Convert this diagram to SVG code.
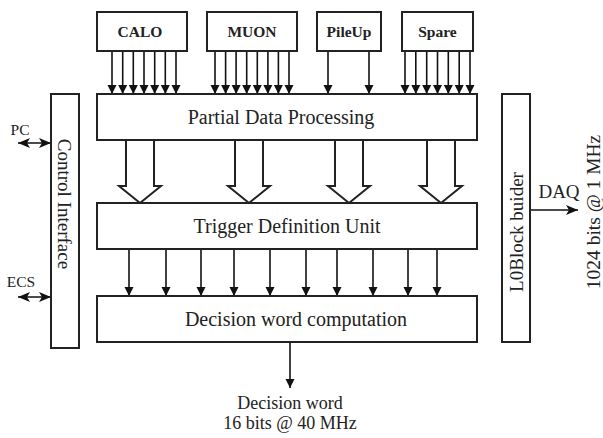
<svg xmlns="http://www.w3.org/2000/svg" width="603" height="438" viewBox="0 0 603 438">
<defs>
<style>
.box{fill:#fff;stroke:#222;stroke-width:2}
.ln{stroke:#111;stroke-width:1.6;fill:none}
.t{font-family:"Liberation Serif","Times New Roman",serif;fill:#222;text-anchor:middle}
.tb{font-family:"Liberation Serif","Times New Roman",serif;font-weight:bold;font-size:15.5px;fill:#222;text-anchor:middle}
.hollow{fill:#fff;stroke:#222;stroke-width:2;stroke-linejoin:miter}
</style>
<marker id="ah" markerWidth="9" markerHeight="10" viewBox="0 0 10 10" refX="10" refY="5" orient="auto" markerUnits="userSpaceOnUse">
<path d="M0,0 L10,5 L0,10 Z" fill="#111"/>
</marker>
<marker id="ah2" markerWidth="12" markerHeight="10" viewBox="0 0 12 10" refX="12" refY="5" orient="auto-start-reverse" markerUnits="userSpaceOnUse">
<path d="M0,0 L12,5 L0,10 L3,5 Z" fill="#111"/>
</marker>
</defs>
<rect width="603" height="438" fill="#fff"/>

<g id="connectors">
<g class="ln" marker-end="url(#ah)">
<!-- CALO -->
<line x1="112" y1="51" x2="112" y2="94"/>
<line x1="122.7" y1="51" x2="122.7" y2="94"/>
<line x1="133.3" y1="51" x2="133.3" y2="94"/>
<line x1="144" y1="51" x2="144" y2="94"/>
<line x1="154.7" y1="51" x2="154.7" y2="94"/>
<line x1="165.3" y1="51" x2="165.3" y2="94"/>
<line x1="176" y1="51" x2="176" y2="94"/>
<!-- MUON -->
<line x1="215" y1="51" x2="215" y2="94"/>
<line x1="225.6" y1="51" x2="225.6" y2="94"/>
<line x1="236.1" y1="51" x2="236.1" y2="94"/>
<line x1="246.7" y1="51" x2="246.7" y2="94"/>
<line x1="257.3" y1="51" x2="257.3" y2="94"/>
<line x1="267.9" y1="51" x2="267.9" y2="94"/>
<line x1="278.4" y1="51" x2="278.4" y2="94"/>
<line x1="289" y1="51" x2="289" y2="94"/>
<!-- PileUp -->
<line x1="328" y1="51" x2="328" y2="94"/>
<line x1="369" y1="51" x2="369" y2="94"/>
<!-- Spare -->
<line x1="405" y1="51" x2="405" y2="94"/>
<line x1="415.8" y1="51" x2="415.8" y2="94"/>
<line x1="426.7" y1="51" x2="426.7" y2="94"/>
<line x1="437.5" y1="51" x2="437.5" y2="94"/>
<line x1="448.3" y1="51" x2="448.3" y2="94"/>
<line x1="459.2" y1="51" x2="459.2" y2="94"/>
<line x1="470" y1="51" x2="470" y2="94"/>
<!-- TDU to DWC -->
<line x1="129" y1="249" x2="129" y2="296"/>
<line x1="166" y1="249" x2="166" y2="296"/>
<line x1="201" y1="249" x2="201" y2="296"/>
<line x1="234" y1="249" x2="234" y2="296"/>
<line x1="270" y1="249" x2="270" y2="296"/>
<line x1="306" y1="249" x2="306" y2="296"/>
<line x1="337" y1="249" x2="337" y2="296"/>
<line x1="373" y1="249" x2="373" y2="296"/>
<line x1="408" y1="249" x2="408" y2="296"/>
<line x1="437" y1="249" x2="437" y2="296"/>
<!-- output -->
<line x1="290" y1="342" x2="290" y2="388"/>
</g>
<!-- hollow arrows -->
<path class="hollow" d="M126,140V186H119L140,203L161,186H154V140"/>
<path class="hollow" d="M235,140V186H228L249,203L270,186H263V140"/>
<path class="hollow" d="M335,140V186H328L349,203L370,186H363V140"/>
<path class="hollow" d="M427,140V186H420L441,203L462,186H455V140"/>
<!-- DAQ -->
<line class="ln" marker-end="url(#ah2)" x1="530" y1="210" x2="578" y2="210"/>
<!-- PC / ECS -->
<line class="ln" stroke-width="2" marker-start="url(#ah2)" marker-end="url(#ah2)" x1="18" y1="143" x2="51" y2="143"/>
<line class="ln" stroke-width="2" marker-start="url(#ah2)" marker-end="url(#ah2)" x1="18" y1="297" x2="51" y2="297"/>
</g>

<g id="calo"><rect class="box" x="97" y="12" width="90" height="39"/><text class="tb" x="140" y="37">CALO</text></g>
<g id="muon"><rect class="box" x="207" y="12" width="90" height="39"/><text class="tb" x="252" y="37">MUON</text></g>
<g id="pileup"><rect class="box" x="317" y="12" width="64" height="39"/><text class="tb" x="349" y="37">PileUp</text></g>
<g id="spare"><rect class="box" x="402" y="12" width="71" height="39"/><text class="tb" x="437.5" y="37">Spare</text></g>

<g id="pdp"><rect class="box" x="97" y="94" width="380" height="46"/><text class="t" x="281" y="124" font-size="20">Partial Data Processing</text></g>
<g id="tdu"><rect class="box" x="97" y="203" width="380" height="46"/><text class="t" x="287" y="233" font-size="20">Trigger Definition Unit</text></g>
<g id="dwc"><rect class="box" x="97" y="296" width="380" height="46"/><text class="t" x="296" y="326" font-size="20">Decision word computation</text></g>

<g id="control"><rect class="box" x="51" y="94" width="28" height="254"/><text class="t" font-size="19" transform="translate(58,204) rotate(90)">Control Interface</text></g>
<g id="l0"><rect class="box" x="502" y="94" width="28" height="248"/><text class="t" font-size="19" transform="translate(523,232) rotate(-90)">L0Block buider</text></g>

<g id="labels">
<text class="t" x="20" y="135" font-size="15.5">PC</text>
<text class="t" x="21" y="287" font-size="15.5">ECS</text>
<text class="t" x="559" y="198" font-size="19">DAQ</text>
<text class="t" font-size="19.5" transform="translate(600,212) rotate(-90)">1024 bits @ 1 MHz</text>
<text class="t" x="290" y="409" font-size="18">Decision word</text>
<text class="t" x="290" y="429" font-size="18">16 bits @ 40 MHz</text>
</g>
</svg>
